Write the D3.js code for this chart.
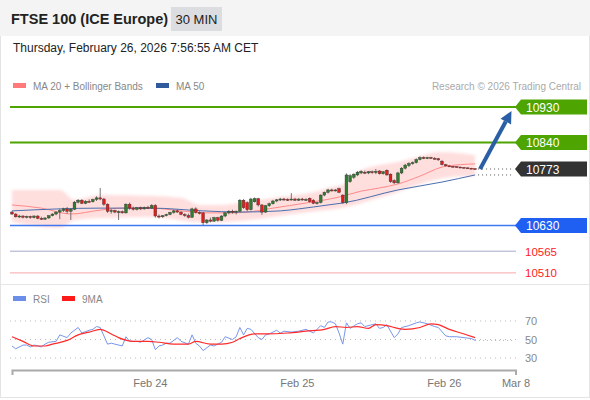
<!DOCTYPE html>
<html>
<head>
<meta charset="utf-8">
<script src="https://cdn.jsdelivr.net/npm/d3@7"></script>
<style>
  html, body { margin: 0; padding: 0; background: #fff; }
  svg { display: block; font-family: "Liberation Sans", Arial, sans-serif; }
</style>
</head>
<body>
<svg id="chart" width="590" height="400"></svg>
<script>
// FTSE 100 30-min chart with MA/Bollinger bands and RSI panel.

// candles: [open, high, low, close], one per 30-min bar
const candles = [
  [10664, 10667, 10657, 10659], [10659, 10661, 10650, 10652], [10652, 10657, 10649, 10654], [10654, 10656, 10648, 10651],
  [10651, 10655, 10648, 10653], [10653, 10655, 10647, 10650], [10650, 10656, 10648, 10654], [10654, 10656, 10646, 10648],
  [10648, 10652, 10644, 10646], [10646, 10651, 10644, 10649], [10649, 10656, 10647, 10655], [10655, 10661, 10653, 10659],
  [10659, 10666, 10656, 10664], [10664, 10672, 10646, 10668], [10668, 10675, 10664, 10672], [10672, 10677, 10660, 10666],
  [10666, 10674, 10644, 10671], [10671, 10692, 10669, 10689], [10689, 10697, 10686, 10694], [10694, 10697, 10684, 10686],
  [10686, 10694, 10684, 10691], [10691, 10696, 10688, 10690], [10690, 10698, 10688, 10696], [10696, 10704, 10692, 10700],
  [10700, 10725, 10694, 10697], [10697, 10700, 10680, 10684], [10684, 10686, 10662, 10666], [10666, 10672, 10660, 10668],
  [10668, 10670, 10661, 10664], [10664, 10668, 10644, 10665], [10665, 10668, 10660, 10662], [10662, 10686, 10660, 10684],
  [10684, 10688, 10670, 10674], [10674, 10678, 10668, 10671], [10671, 10677, 10668, 10675], [10675, 10678, 10669, 10672],
  [10672, 10678, 10670, 10676], [10676, 10680, 10672, 10674], [10674, 10684, 10672, 10681], [10681, 10684, 10650, 10654],
  [10654, 10658, 10648, 10652], [10652, 10656, 10649, 10655], [10655, 10660, 10653, 10658], [10658, 10665, 10656, 10663],
  [10663, 10670, 10660, 10667], [10667, 10671, 10662, 10664], [10664, 10666, 10656, 10658], [10658, 10661, 10652, 10655],
  [10655, 10660, 10648, 10651], [10651, 10675, 10649, 10672], [10672, 10676, 10660, 10663], [10663, 10666, 10658, 10662],
  [10662, 10664, 10631, 10637], [10637, 10646, 10634, 10644], [10644, 10650, 10638, 10641], [10641, 10652, 10639, 10650],
  [10650, 10652, 10640, 10643], [10643, 10656, 10641, 10654], [10654, 10664, 10651, 10662], [10662, 10669, 10658, 10666],
  [10666, 10670, 10660, 10664], [10664, 10668, 10658, 10666], [10666, 10697, 10664, 10694], [10694, 10697, 10672, 10675],
  [10688, 10691, 10666, 10670], [10670, 10700, 10668, 10697], [10690, 10701, 10688, 10698], [10698, 10700, 10678, 10682],
  [10682, 10684, 10657, 10664], [10664, 10682, 10662, 10680], [10680, 10688, 10677, 10685], [10685, 10695, 10683, 10692],
  [10692, 10697, 10689, 10695], [10695, 10700, 10692, 10697], [10697, 10700, 10693, 10696], [10696, 10699, 10692, 10695],
  [10695, 10712, 10693, 10697], [10697, 10700, 10692, 10694], [10694, 10699, 10692, 10697], [10697, 10700, 10693, 10695],
  [10695, 10699, 10692, 10696], [10699, 10701, 10688, 10690], [10694, 10697, 10684, 10686], [10686, 10690, 10683, 10688],
  [10688, 10709, 10686, 10707], [10707, 10716, 10704, 10714], [10714, 10723, 10711, 10720], [10720, 10723, 10716, 10719],
  [10719, 10722, 10716, 10720], [10723, 10726, 10712, 10714], [10707, 10709, 10685, 10688], [10688, 10762, 10684, 10758],
  [10741, 10760, 10738, 10756], [10752, 10762, 10748, 10760], [10758, 10768, 10755, 10765], [10763, 10770, 10760, 10767],
  [10765, 10769, 10760, 10763], [10763, 10768, 10760, 10766], [10766, 10769, 10761, 10764], [10764, 10773, 10760, 10767],
  [10768, 10770, 10759, 10761], [10761, 10768, 10759, 10766], [10770, 10772, 10756, 10758], [10760, 10762, 10738, 10741],
  [10744, 10747, 10735, 10738], [10738, 10766, 10736, 10763], [10763, 10778, 10760, 10775], [10775, 10786, 10772, 10783],
  [10782, 10790, 10778, 10787], [10787, 10792, 10784, 10789], [10789, 10800, 10787, 10797], [10797, 10805, 10795, 10802],
  [10802, 10805, 10798, 10801], [10801, 10804, 10798, 10802], [10802, 10804, 10799, 10800], [10800, 10803, 10797, 10799],
  [10799, 10801, 10794, 10796], [10793, 10795, 10782, 10784], [10784, 10786, 10779, 10781], [10781, 10782, 10778, 10780],
  [10780, 10781, 10777, 10779], [10779, 10780, 10777, 10778], [10778, 10779, 10776, 10777], [10777, 10778, 10775, 10776],
  [10776, 10777, 10774, 10775], [10775, 10776, 10773, 10774], [10774, 10775, 10772, 10773]
];

// moving averages and Bollinger bands, read at sample bars: [bar index, value]
const ma20 = [[0, 10682], [8, 10674], [16, 10659], [24, 10669], [30, 10674], [38, 10674], [46, 10667], [53, 10662],
  [60, 10662], [64, 10664], [71, 10674], [80, 10687], [89, 10702], [95, 10717], [100, 10725], [105, 10735],
  [111, 10755], [117, 10778], [122, 10784], [126, 10786]];
const ma50 = [[0, 10667], [24, 10674], [38, 10674], [52, 10667], [62, 10664], [73, 10667], [78, 10672], [86, 10682],
  [90, 10687], [105, 10720], [117, 10740], [126, 10758]];
const bandUpper = [[0, 10720], [13, 10720], [17, 10695], [24, 10707], [38, 10705], [46, 10700], [51, 10682], [57, 10682],
  [65, 10692], [73, 10702], [81, 10712], [86, 10725], [91, 10738], [94, 10765], [100, 10783], [105, 10791],
  [110, 10803], [116, 10816], [122, 10813], [126, 10808]];
const bandLower = [[0, 10639], [8, 10629], [13, 10624], [17, 10644], [24, 10649], [32, 10659], [40, 10649], [51, 10639],
  [59, 10639], [67, 10646], [76, 10659], [81, 10664], [86, 10669], [91, 10677], [94, 10684], [100, 10700],
  [105, 10715], [111, 10735], [117, 10750], [122, 10755], [126, 10755]];

// RSI and its 9-period MA: [bar index, value]
const rsi = [[0, 43], [1, 40], [3, 44], [4, 44], [5, 42], [6, 44], [8, 42], [9, 45], [10, 47], [12, 48], [13, 55],
  [15, 52], [16, 57], [18, 63], [19, 57], [21, 60], [22, 61], [23, 64], [24, 63], [26, 45], [27, 46], [28, 45],
  [30, 43], [31, 53], [32, 48], [34, 48], [35, 47], [37, 52], [38, 50], [39, 39], [40, 43], [41, 44], [42, 46],
  [43, 46], [45, 52], [46, 48], [48, 45], [49, 55], [50, 46], [51, 43], [52, 38], [54, 44], [55, 43], [57, 47],
  [58, 53], [60, 50], [61, 53], [62, 63], [63, 55], [64, 62], [65, 61], [67, 52], [68, 50], [69, 55], [70, 56],
  [72, 60], [73, 57], [74, 59], [76, 58], [78, 59], [80, 61], [82, 57], [84, 65], [85, 63], [86, 69], [87, 69],
  [88, 67], [89, 57], [90, 45], [91, 68], [92, 62], [94, 67], [95, 68], [96, 64], [98, 66], [99, 67], [100, 62],
  [101, 63], [102, 66], [104, 52], [105, 56], [106, 63], [108, 65], [110, 68], [111, 69], [113, 67], [115, 64],
  [116, 63], [118, 54], [119, 53], [121, 53], [123, 52], [125, 51], [126, 49]];
const rsiMa = [[0, 53], [3, 48], [6, 43], [9, 43], [11, 45], [15, 49], [18, 55], [21, 58], [24, 61], [27, 56],
  [29, 52], [33, 48], [37, 48], [40, 47], [44, 45], [48, 45], [50, 48], [54, 45], [57, 45], [60, 47], [62, 51],
  [66, 56], [69, 56], [75, 57], [80, 59], [85, 61], [88, 64], [91, 63], [94, 64], [97, 62], [99, 66], [102, 65],
  [105, 62], [107, 61], [111, 63], [114, 67], [116, 66], [119, 61], [123, 56], [126, 52]];

// key levels
const levelValues = [10930, 10840, 10773, 10630, 10565, 10510];
const levelKinds = ["res", "res", "last", "sup", "minor", "minor2"];
const rsiTicks = [70, 50, 30];
const dateTicks = [37.5, 77.5, 117.5, 137];
const dateLabels = ["Feb 24", "Feb 25", "Feb 26", "Mar 8"];
const lastBar = 126;
const endBar = 137;

const svg = d3.select("#chart");
const W = 590;

const x = d3.scaleLinear().domain([0, endBar]).range([12, 515.5]);
const y = d3.scaleLinear().domain([10510, 10930]).range([272.9, 107]);
const yr = d3.scaleLinear().domain([30, 70]).range([358, 321]);

// frame and header
svg.append("rect").attr("x", 0.5).attr("y", 0.5).attr("width", W - 1).attr("height", 397)
  .attr("fill", "#fff").attr("stroke", "#e4e4e4");
svg.append("rect").attr("x", 0).attr("y", 0).attr("width", W).attr("height", 36).attr("fill", "#f4f4f4");
svg.append("text").attr("x", 11).attr("y", 24).attr("font-size", 14.5).attr("font-weight", "bold")
  .attr("fill", "#222").text("FTSE 100 (ICE Europe)");
svg.append("rect").attr("x", 171).attr("y", 7).attr("width", 51).attr("height", 24).attr("fill", "#dcdde1");
svg.append("text").attr("x", 196.5).attr("y", 24).attr("font-size", 13).attr("text-anchor", "middle")
  .attr("fill", "#222").text("30 MIN");
svg.append("text").attr("x", 13).attr("y", 52).attr("font-size", 12).attr("fill", "#222")
  .text("Thursday, February 26, 2026 7:56:55 AM CET");
svg.append("line").attr("x1", 1).attr("x2", W - 1).attr("y1", 284.5).attr("y2", 284.5).attr("stroke", "#e6e6e6");

// legends
function legendItem(lx, ly, color, label) {
  svg.append("rect").attr("x", lx).attr("y", ly - 3).attr("width", 13).attr("height", 5).attr("fill", color);
  svg.append("text").attr("x", lx + 20).attr("y", ly + 3.5).attr("font-size", 10).attr("fill", "#888").text(label);
}
legendItem(13, 86, "#ff7b7b", "MA 20 + Bollinger Bands");
legendItem(156, 86, "#2f5b9c", "MA 50");
legendItem(13, 299, "#6b8ee8", "RSI");
legendItem(62, 299, "#ff1a1a", "9MA");
svg.append("text").attr("x", 581).attr("y", 90).attr("font-size", 10).attr("text-anchor", "end")
  .attr("fill", "#aaa").text("Research \u00a9 2026 Trading Central");

// Bollinger band
const defs = svg.append("defs");
defs.append("filter").attr("id", "soft").append("feGaussianBlur").attr("stdDeviation", 1.6);
const bandLower2 = d3.scaleLinear().domain(bandLower.map(d => d[0])).range(bandLower.map(d => d[1]));
const bandArea = d3.area()
  .x(d => x(d[0]))
  .y0(d => y(bandLower2(d[0])))
  .y1(d => y(d[1]))
  .curve(d3.curveMonotoneX);
svg.append("path").datum(bandUpper).attr("d", bandArea).attr("fill", "#ffdede")
  .attr("filter", "url(#soft)");

// level lines
const levelStyle = {
  res: { line: "#4ea400", width: 2, box: "#4ea400", text: "#fff" },
  last: { line: null, width: 0, box: "#333", text: "#fff" },
  sup: { line: "#3f78f0", width: 1.5, box: "#1f5ff2", text: "#fff" },
  minor: { line: "#a4a8c8", width: 1, box: null, text: "#ff1a1a" },
  minor2: { line: "#f7a7a7", width: 1, box: null, text: "#ff1a1a" }
};
levelValues.forEach(function drawLevel(v, i) {
  const st = levelStyle[levelKinds[i]];
  const ly = y(v);
  if (st.line) {
    svg.append("line").attr("x1", 10).attr("x2", 516).attr("y1", ly).attr("y2", ly)
      .attr("stroke", st.line).attr("stroke-width", st.width);
  }
  if (st.box) {
    const bx = 515, bw = 72, bh = 15;
    svg.append("path")
      .attr("d", "M" + bx + "," + ly + " L" + (bx + 6) + "," + (ly - bh / 2) + " H" + (bx + bw) + " V" + (ly + bh / 2) +
        " H" + (bx + 6) + " Z")
      .attr("fill", st.box);
    svg.append("text").attr("x", 526).attr("y", ly + 4.5).attr("font-size", 12).attr("fill", st.text).text(v);
  } else {
    svg.append("text").attr("x", 525).attr("y", ly + 4.5).attr("font-size", 11.5).attr("fill", st.text).text(v);
  }
});

// dotted extensions from the last bar
const lastClose = candles[lastBar][3];
const lastMa50 = ma50[ma50.length - 1][1];
[lastClose, lastMa50].forEach(function dotted(v) {
  svg.append("line").attr("x1", x(lastBar) + 3).attr("x2", 514).attr("y1", y(v)).attr("y2", y(v))
    .attr("stroke", "#555").attr("stroke-width", 1).attr("stroke-dasharray", "1,3");
});

// moving averages
const line = d3.line().x(d => x(d[0])).y(d => y(d[1])).curve(d3.curveMonotoneX);
svg.append("path").datum(ma20).attr("d", line).attr("fill", "none").attr("stroke", "#ff8a8a").attr("stroke-width", 1);
svg.append("path").datum(ma50).attr("d", line).attr("fill", "none").attr("stroke", "#4a6fb0").attr("stroke-width", 1);

// candles
const bars = svg.append("g");
candles.forEach(function drawCandle(c, i) {
  const cx = x(i);
  const up = c[3] >= c[0];
  bars.append("line").attr("x1", cx).attr("x2", cx).attr("y1", y(c[1])).attr("y2", y(c[2]))
    .attr("stroke", "#555").attr("stroke-width", 0.8);
  const top = y(Math.max(c[0], c[3]));
  const h = Math.max(1, Math.abs(y(c[0]) - y(c[3])));
  bars.append("rect").attr("x", cx - 1.4).attr("y", top).attr("width", 2.8).attr("height", h)
    .attr("fill", up ? "#2f7d2f" : "#e01e1e").attr("stroke", "#333").attr("stroke-width", 0.4);
});

// target arrow
const ax0 = x(lastBar) + 5, ay0 = y(lastClose);
const ax1 = x(endBar) - 4, ay1 = y(levelValues[0]) + 4;
const ang = Math.atan2(ay1 - ay0, ax1 - ax0);
const headLen = 12, headW = 6;
const sx = ax1 - headLen * Math.cos(ang), sy = ay1 - headLen * Math.sin(ang);
svg.append("line").attr("x1", ax0).attr("y1", ay0).attr("x2", sx).attr("y2", sy)
  .attr("stroke", "#2b5fa5").attr("stroke-width", 4);
svg.append("path")
  .attr("d", "M" + ax1 + "," + ay1 +
    " L" + (sx + headW * Math.sin(ang)) + "," + (sy - headW * Math.cos(ang)) +
    " L" + (sx - headW * Math.sin(ang)) + "," + (sy + headW * Math.cos(ang)) + " Z")
  .attr("fill", "#2b5fa5");

// RSI panel
rsiTicks.forEach(function grid(t) {
  svg.append("line").attr("x1", 10).attr("x2", 516).attr("y1", yr(t)).attr("y2", yr(t))
    .attr("stroke", "#bbb").attr("stroke-dasharray", "1,4");
  svg.append("text").attr("x", 525).attr("y", yr(t) + 4).attr("font-size", 11).attr("fill", "#888").text(t);
});
const rline = d3.line().x(d => x(d[0])).y(d => yr(d[1]));
svg.append("path").datum(rsi).attr("d", rline).attr("fill", "none").attr("stroke", "#7896ea").attr("stroke-width", 1);
svg.append("path").datum(rsiMa).attr("d", rline.curve(d3.curveMonotoneX)).attr("fill", "none")
  .attr("stroke", "#ff2a2a").attr("stroke-width", 1.2);
const lastRsi = rsi[rsi.length - 1][1];
svg.append("line").attr("x1", x(lastBar)).attr("x2", 515).attr("y1", yr(lastRsi)).attr("y2", yr(lastRsi))
  .attr("stroke", "#9db1ee").attr("stroke-dasharray", "1,3");

// time axis
const xAxis = d3.axisBottom(x).tickValues(dateTicks)
  .tickFormat((d, i) => dateLabels[i]).tickSizeInner(0).tickSizeOuter(5).tickPadding(9);
const gx = svg.append("g").attr("transform", "translate(0,370)").call(xAxis);
gx.select(".domain").attr("stroke", "#aaa").attr("stroke-width", 2);
gx.selectAll("text").attr("font-size", 11).attr("fill", "#777").attr("font-family", "Liberation Sans, Arial, sans-serif");
</script>
</body>
</html>
